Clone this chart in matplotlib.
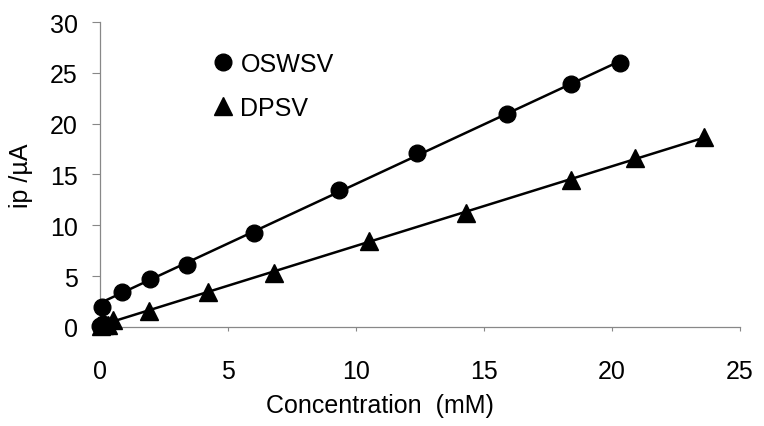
import numpy as np
import matplotlib
matplotlib.use('Agg')
import matplotlib.pyplot as plt

# values
osw_conc = [0.0, 0.1, 0.07, 0.85, 1.95, 3.4, 6.0, 9.35, 12.4, 15.9, 18.4, 20.3]
osw_ip = [0.1, 0.3, 1.95, 3.4, 4.7, 6.1, 9.25, 13.5, 17.1, 21.0, 23.9, 26.0]
dp_conc = [0.05, 0.15, 0.3, 0.5, 1.9, 4.2, 6.8, 10.5, 14.3, 18.4, 20.9, 23.6]
dp_ip = [0.05, 0.15, 0.2, 0.7, 1.6, 3.45, 5.3, 8.45, 11.2, 14.5, 16.6, 18.7]

x_ticks = [0, 5, 10, 15, 20, 25]
y_ticks = [0, 5, 10, 15, 20, 25, 30]

plt.rcParams['font.family'] = ['Liberation Sans', 'DejaVu Sans']
fs = 18

fig = plt.figure(figsize=(7.64, 4.27), dpi=100)
ax = fig.add_axes([0.1309, 0.2319, 0.8377, 0.7142])

# linear fits drawn across each series' range
for xs, ys in ((osw_conc, osw_ip), (dp_conc, dp_ip)):
    xs = np.array(xs)
    ys = np.array(ys)
    k, b = np.polyfit(xs[3:], ys[3:], 1)
    xl = np.array([xs[3] * 0.3, xs.max()])
    ax.plot(xl, k * xl + b, color='black', lw=1.8, zorder=2)

ax.plot(osw_conc, osw_ip, 'o', color='black', ms=12, ls='none', label='OSWSV',
        zorder=3, clip_on=False)
ax.plot(dp_conc, dp_ip, '^', color='black', ms=13, ls='none', label='DPSV',
        zorder=3, clip_on=False)

ax.set_xlim(0, 25)
ax.set_ylim(0, 30)
ax.set_xticks(x_ticks)
ax.set_yticks(y_ticks)
ax.tick_params(labelsize=fs, colors='#888888', labelcolor='black', width=0.8)
ax.tick_params(axis='x', direction='out', length=3, pad=20)
ax.tick_params(axis='y', length=6, pad=10)

for s in ('top', 'right'):
    ax.spines[s].set_visible(False)
for s in ('left', 'bottom'):
    ax.spines[s].set_color('#888888')
    ax.spines[s].set_linewidth(0.9)

ax.set_xlabel('Concentration  (mM)', fontsize=fs)
ax.xaxis.set_label_coords(0.4375, -0.215)
ax.set_ylabel('ip /\u00b5A', fontsize=fs)
ax.yaxis.set_label_coords(-0.105, 0.5)

ax.legend(loc='upper left', bbox_to_anchor=(0.157, 0.934), frameon=False,
          fontsize=fs, handlelength=1.0, handletextpad=0.2, labelspacing=0.8,
          borderaxespad=0)

fig.savefig('out.png', dpi=100)
